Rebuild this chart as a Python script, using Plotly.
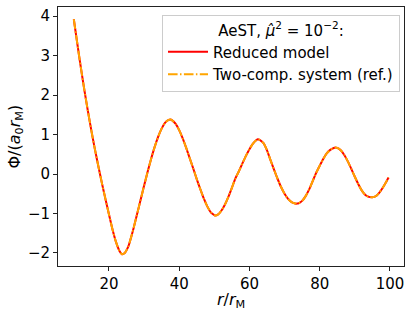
import plotly.graph_objects as go

# r / r_M sample positions
r_vals = [10, 11, 12, 13, 14, 15, 16, 17, 18, 19, 20, 21, 22, 23, 23.7, 24.5, 25.5,
          26, 27, 28, 29, 30, 31, 32, 33, 34, 35, 36, 37, 37.5, 38, 39, 40, 41, 42,
          43, 44, 45, 46, 47, 48, 49, 50, 50.3, 51, 52, 53, 54, 55, 56, 57, 58, 59,
          60, 61, 62, 62.4, 63, 64, 65, 66, 67, 68, 69, 70, 71, 72, 73, 73.5, 74,
          75, 76, 77, 78, 79, 80, 81, 82, 83, 84, 84.5, 85, 86, 87, 88, 89, 90, 91,
          92, 93, 94, 95, 96, 97, 98, 99, 99.6]

# Phi / (a0 r_M), reduced model
phi_reduced = [3.92, 3.30, 2.70, 2.13, 1.60, 1.10, 0.63, 0.19, -0.23, -0.63, -1.02, -1.40,
               -1.72, -1.95, -2.03, -2.00, -1.84,
               -1.70, -1.38, -1.02, -0.66, -0.30, 0.05, 0.38, 0.68, 0.94, 1.15, 1.30, 1.37,
               1.38, 1.36, 1.27, 1.11, 0.90, 0.66,
               0.40, 0.14, -0.13, -0.38, -0.62, -0.82, -0.97, -1.04, -1.05, -1.03, -0.93,
               -0.78, -0.58, -0.35, -0.11, 0.07, 0.27, 0.46,
               0.63, 0.77, 0.86, 0.88, 0.86, 0.78, 0.60, 0.35, 0.11, -0.12, -0.33, -0.50,
               -0.63, -0.71, -0.745, -0.75, -0.74,
               -0.68, -0.56, -0.39, -0.18, 0.03, 0.21, 0.38, 0.52, 0.61, 0.66, 0.67, 0.66,
               0.60, 0.48, 0.32, 0.13, -0.07, -0.26,
               -0.42, -0.53, -0.58, -0.59, -0.56, -0.47, -0.34, -0.19, -0.09]

# two-component system (reference) coincides with the reduced model
phi_reference = list(phi_reduced)

x_ticks = [20, 40, 60, 80, 100]
y_ticks = [-2, -1, 0, 1, 2, 3, 4]

FONT = "DejaVu Sans"
W, H = 413, 316
ML, MR, MT, MB = 58, 9, 7, 50
PW, PH = W - ML - MR, H - MT - MB

fig = go.Figure()
fig.add_trace(go.Scatter(
    x=r_vals, y=phi_reduced, mode="lines", name="Reduced model",
    line=dict(color="red", width=2, shape="spline", smoothing=0.6),
))
fig.add_trace(go.Scatter(
    x=r_vals, y=phi_reference, mode="lines", name="Two-comp. system (ref.)",
    line=dict(color="#FFA500", width=2, shape="spline", smoothing=0.6,
              dash="9.6px,2.4px,1.5px,2.4px"),
))

axis_common = dict(
    showline=True, linecolor="#222", linewidth=1, mirror=True,
    ticks="outside", ticklen=4, tickwidth=1, tickcolor="#222",
    showgrid=False, zeroline=False, automargin=False,
    tickfont=dict(family=FONT, size=15, color="black"),
)

fig.update_layout(
    width=W, height=H,
    margin=dict(l=ML, r=MR, t=MT, b=MB),
    paper_bgcolor="white", plot_bgcolor="white",
    font=dict(family=FONT, color="black"),
    xaxis=dict(range=[5.5, 104], tickvals=x_ticks, **axis_common),
    yaxis=dict(range=[-2.33, 4.23], tickvals=y_ticks,
               ticktext=[("\u2212" + str(-v)) if v < 0 else str(v) for v in y_ticks],
               **axis_common),
    legend=dict(
        x=(400 - ML) / PW, xanchor="right", y=(H - MB - 15) / PH, yanchor="top",
        bgcolor="rgba(255,255,255,0.8)", bordercolor="#cccccc", borderwidth=1,
        font=dict(family=FONT, size=15, color="black"),
        title=dict(text="AeST, <i>\u03bc\u0302</i><sup>2</sup> = 10<sup>\u22122</sup>:",
                   side="top center", font=dict(family=FONT, size=15)),
        tracegroupgap=0, itemwidth=40,
    ),
    showlegend=True,
    hovermode=False,
    annotations=[
        dict(text="<i>r</i>/<i>r</i><sub>M</sub>", xref="paper", yref="paper",
             x=0.5, y=-(300 - (H - MB)) / PH, xanchor="center", yanchor="middle",
             showarrow=False, font=dict(family=FONT, size=16)),
        dict(text="\u03a6/(<i>a</i><sub>0</sub><i>r</i><sub>M</sub>)", xref="paper",
             yref="paper", x=-(ML - 15) / PW, y=0.5, xanchor="center",
             yanchor="middle", textangle=-90, showarrow=False,
             font=dict(family=FONT, size=16)),
    ],
)

fig.write_html(
    "out.html",
    config={"displayModeBar": False},
    post_script="document.body.style.margin='0px';document.body.style.overflow='hidden';",
)
